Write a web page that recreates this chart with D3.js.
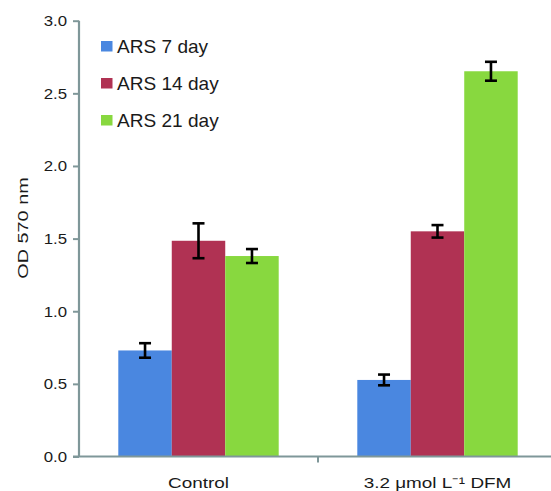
<!DOCTYPE html>
<html>
<head>
<meta charset="utf-8">
<script src="https://cdn.jsdelivr.net/npm/d3@7"></script>
<style>
  body { margin: 0; background: #fff; }
  svg { font-family: "Liberation Sans", Arial, sans-serif; }
</style>
</head>
<body>
<div id="chart"></div>
<script>
// datos
const categories = ['Control', '3.2 μmol L⁻¹ DFM'];
const series = ['ARS 7 day', 'ARS 14 day', 'ARS 21 day'];
const colors = ['#4a87e0', '#b03253', '#88d83f'];
const values = [
    [0.73, 0.527],   // 7 day
    [1.485, 1.55],   // 14 day
    [1.38, 2.652]    // 21 day
];
const errors = [
    [0.05, 0.037],
    [0.12, 0.043],
    [0.048, 0.065]
];
const yTicks = [0, 0.5, 1.0, 1.5, 2.0, 2.5, 3.0];

const width = 551, height = 491;
const margin = { left: 79, top: 20, bottom: 34 };
const axisColor = '#7f9799';
const textColor = '#1a1a1a';

const svg = d3.select('#chart').append('svg')
    .attr('width', width)
    .attr('height', height);

const x = d3.scaleBand()
    .domain(categories)
    .range([margin.left, margin.left + 478])
    .paddingInner(0)
    .paddingOuter(0);

const xs = d3.scaleBand()
    .domain(series)
    .range([0, x.bandwidth()])
    .paddingInner(0)
    .paddingOuter(0.735);

const y = d3.scaleLinear()
    .domain([0, 3])
    .range([height - margin.bottom - 0.5, margin.top + 0.7]);

// Barras
series.forEach((s, i) => {
    const g = svg.append('g');
    g.selectAll('rect')
        .data(categories)
        .enter()
        .append('rect')
        .attr('x', c => x(c) + xs(s))
        .attr('width', xs.bandwidth())
        .attr('y', (c, j) => y(values[i][j]))
        .attr('height', (c, j) => y(0) - y(values[i][j]))
        .attr('fill', colors[i]);
});

// Barras de error
series.forEach((s, i) => {
    categories.forEach((c, j) => {
        const cx = x(c) + xs(s) + xs.bandwidth() / 2;
        const top = y(values[i][j] + errors[i][j]);
        const bot = y(values[i][j] - errors[i][j]);
        const e = svg.append('g').attr('stroke', '#000').attr('stroke-width', 2.6);
        e.append('line').attr('x1', cx).attr('x2', cx).attr('y1', top).attr('y2', bot);
        e.append('line').attr('x1', cx - 6).attr('x2', cx + 6).attr('y1', top).attr('y2', top);
        e.append('line').attr('x1', cx - 6).attr('x2', cx + 6).attr('y1', bot).attr('y2', bot);
    });
});

// Eje Y
const yAxis = svg.append('g')
    .attr('transform', `translate(${margin.left},0)`)
    .call(d3.axisLeft(y).tickValues(yTicks).tickFormat(d3.format('.1f')).tickSize(6).tickPadding(4));
yAxis.select('.domain').attr('stroke', axisColor).attr('stroke-width', 2.2)
    .attr('d', `M0,${y(3)}V${y(0)}`);
yAxis.selectAll('.tick line').attr('stroke', axisColor).attr('stroke-width', 2);
// el texto original está algo estirado en horizontal
yAxis.selectAll('.tick text')
    .attr('x', 0)
    .attr('font-size', 15)
    .attr('fill', textColor)
    .attr('font-family', '"Liberation Sans", Arial, sans-serif')
    .attr('transform', 'translate(-12,0) scale(1.12,1)');

// Eje X
const xAxis = svg.append('g')
    .attr('transform', `translate(0,${y(0)})`);
xAxis.append('line')
    .attr('x1', margin.left - 6).attr('x2', width)
    .attr('stroke', axisColor).attr('stroke-width', 2.2);
xAxis.selectAll('line.tick')
    .data(categories.slice(1))
    .enter()
    .append('line')
    .attr('class', 'tick')
    .attr('x1', c => x(c)).attr('x2', c => x(c))
    .attr('y1', 0).attr('y2', 6)
    .attr('stroke', axisColor).attr('stroke-width', 2);
xAxis.selectAll('text')
    .data(categories)
    .enter()
    .append('text')
    .attr('transform', c => `translate(${x(c) + x.bandwidth() / 2},31.5) scale(1.22,1)`)
    .attr('text-anchor', 'middle')
    .attr('font-size', 15.5)
    .attr('fill', textColor)
    .text(c => c);

// Título eje Y
svg.append('text')
    .attr('transform', `translate(28,228) rotate(-90) scale(1.28,1)`)
    .attr('text-anchor', 'middle')
    .attr('font-size', 15.5)
    .attr('fill', textColor)
    .text('OD 570 nm');

// Leyenda
const legend = svg.append('g').attr('transform', 'translate(101,41)');
series.forEach((s, i) => {
    const row = legend.append('g').attr('transform', `translate(0,${i * 37})`);
    row.append('rect').attr('width', 11.5).attr('height', 10.5).attr('fill', colors[i]);
    row.append('text')
        .attr('transform', 'translate(16,11.5) scale(1.06,1)')
        .attr('font-size', 18)
        .attr('fill', textColor)
        .text(s);
});
</script>
</body>
</html>
